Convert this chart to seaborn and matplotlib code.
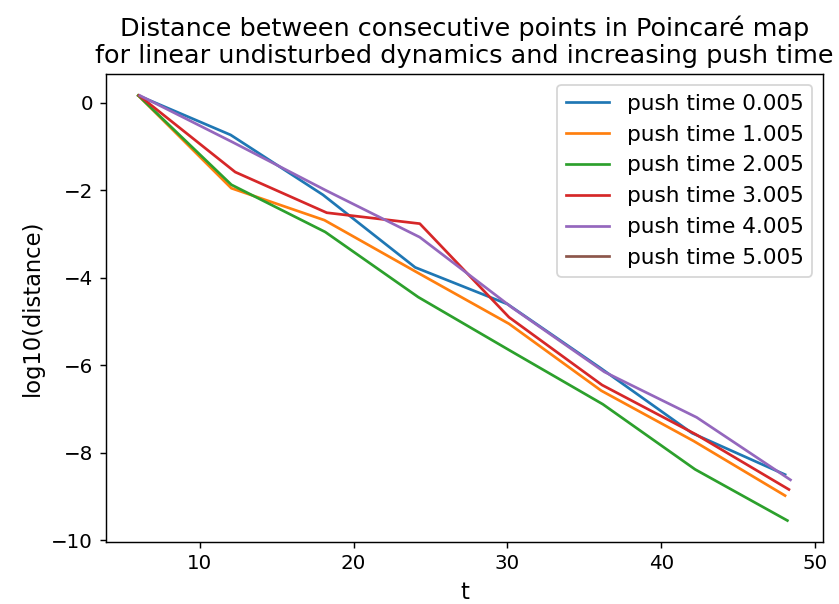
import pandas as pd
import matplotlib
matplotlib.use('Agg')
import matplotlib.pyplot as plt
import seaborn as sns

# valores
push_times = ['0.005', '1.005', '2.005', '3.005', '4.005', '5.005']

t_0 = [6.0, 12.0, 18.0, 24.0, 30.0, 36.0, 42.0, 48.05]
d_0 = [0.17, -0.73, -2.1, -3.76, -4.6, -6.05, -7.55, -8.5]

t_1 = [6.0, 12.05, 18.1, 24.1, 30.1, 36.1, 42.1, 48.05]
d_1 = [0.17, -1.95, -2.68, -3.87, -5.05, -6.58, -7.73, -8.98]

t_2 = [6.0, 12.05, 18.15, 24.2, 30.2, 36.2, 42.2, 48.2]
d_2 = [0.17, -1.87, -2.95, -4.44, -5.67, -6.89, -8.38, -9.55]

t_3 = [6.05, 12.3, 18.25, 24.3, 30.1, 36.15, 42.25, 48.3]
d_3 = [0.17, -1.58, -2.51, -2.76, -4.9, -6.45, -7.58, -8.84]

t_4 = [6.1, 12.15, 18.2, 24.3, 30.3, 36.3, 42.3, 48.4]
d_4 = [0.17, -0.9, -2.0, -3.07, -4.68, -6.15, -7.19, -8.62]

t_5 = [6.0]
d_5 = [0.17]

series_t = [t_0, t_1, t_2, t_3, t_4, t_5]
series_d = [d_0, d_1, d_2, d_3, d_4, d_5]
colores = sns.color_palette('tab10', 6)

fig, ax = plt.subplots(figsize=(839 / 130, 604 / 130), dpi=130)
fig.subplots_adjust(left=0.126, right=0.981, top=0.877, bottom=0.103)

for pt, tt, dd, c in zip(push_times, series_t, series_d, colores):
    df = pd.DataFrame({'t': tt, 'd': dd})
    sns.lineplot(data=df, x='t', y='d', color=c, label='push time ' + pt,
                 ax=ax, sort=False, estimator=None, linewidth=1.5)

ax.set_title('Distance between consecutive points in Poincaré map\n'
             'for linear undisturbed dynamics and increasing push time', fontsize=14.1)
ax.set_xlabel('t', fontsize=12.5)
ax.set_ylabel('log10(distance)', fontsize=12.5)
ax.set_yticks([0, -2, -4, -6, -8, -10])
ax.set_xticks([10, 20, 30, 40, 50])
ax.tick_params(labelsize=11)
ax.legend(loc='upper right', fontsize=12)

fig.savefig('out.png', dpi=130)
